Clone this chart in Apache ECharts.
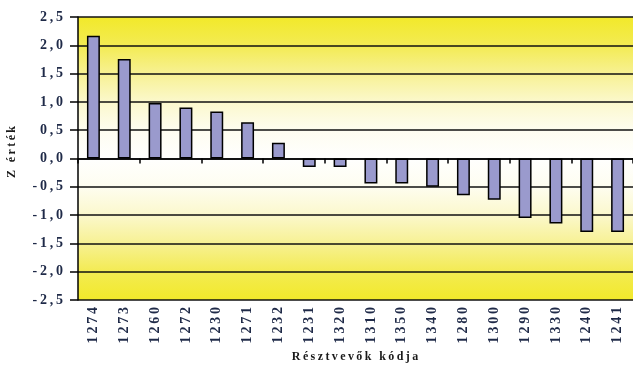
<!DOCTYPE html>
<html>
<head>
<meta charset="utf-8">
<script src="https://cdn.jsdelivr.net/npm/echarts@6/dist/echarts.min.js"></script>
<style>
  html, body { margin: 0; padding: 0; background: #ffffff; }
  #chart { width: 633px; height: 370px; }
</style>
</head>
<body>
<div id="chart"></div>
<script>
// Participant codes, ordered by Z-score
const categories = ['1274', '1273', '1260', '1272', '1230', '1271', '1232', '1231', '1320',
                    '1310', '1350', '1340', '1280', '1300', '1290', '1330', '1240', '1241'];
// Z-score of each participant
const zScores = [2.17, 1.76, 0.98, 0.90, 0.83, 0.64, 0.28, -0.15, -0.15,
                 -0.44, -0.44, -0.50, -0.65, -0.73, -1.05, -1.15, -1.30, -1.30];
// Value axis range and step
const yMin = -2.5, yMax = 2.5, yStep = 0.5;

const serif = '"Liberation Serif", "DejaVu Serif", serif';
const labelColor = '#1f2a48';
// widen text by putting a thin space between characters
const spaced = s => Array.from(s).join('\u2009');

const chart = echarts.init(document.getElementById('chart'));
chart.setOption({
  animation: false,
  graphic: [
    {
      type: 'text', x: 355, y: 357,
      style: {
        text: spaced('Résztvevők kódja'), align: 'center', verticalAlign: 'middle',
        font: 'bold 12px ' + serif, fill: '#1a1a1a'
      }
    },
    {
      type: 'text', x: 12, y: 152, rotation: Math.PI / 2,
      style: {
        text: spaced('Z érték'), align: 'center', verticalAlign: 'middle',
        font: 'bold 12px ' + serif, fill: '#1a1a1a'
      }
    }
  ],
  grid: {
    left: 78, top: 17, width: 557, height: 283,
    show: true, borderWidth: 0,
    backgroundColor: {
      type: 'linear', x: 0, y: 0, x2: 0, y2: 1,
      colorStops: [
        { offset: 0.00, color: '#f2e92a' },
        { offset: 0.10, color: '#f3eb52' },
        { offset: 0.20, color: '#f7f193' },
        { offset: 0.30, color: '#fbf8cc' },
        { offset: 0.40, color: '#fefdf0' },
        { offset: 0.50, color: '#fffffe' },
        { offset: 0.60, color: '#fefdf0' },
        { offset: 0.70, color: '#fbf8cc' },
        { offset: 0.80, color: '#f7f193' },
        { offset: 0.90, color: '#f3eb52' },
        { offset: 1.00, color: '#f2e92a' }
      ]
    }
  },
  xAxis: [
    {
      // zero line with boundary ticks between bars
      type: 'category', data: categories, position: 'bottom',
      axisLine: { onZero: true, lineStyle: { color: '#000', width: 1.5 } },
      axisTick: { show: true, alignWithLabel: false, length: 5, lineStyle: { color: '#000', width: 1.5 } },
      axisLabel: { show: false },
      splitLine: { show: false }
    },
    {
      // participant codes along the bottom edge
      type: 'category', data: categories, position: 'bottom', gridIndex: 0,
      axisLine: { show: false, onZero: false },
      axisTick: { show: false },
      axisLabel: {
        rotate: 90, margin: 7,
        fontFamily: serif, fontSize: 14, fontWeight: 'bold', color: labelColor,
        formatter: spaced
      }
    }
  ],
  yAxis: {
    type: 'value', min: yMin, max: yMax, interval: yStep,
    axisLine: { show: true, lineStyle: { color: '#000', width: 1.5 } },
    axisTick: { show: true, length: 8, lineStyle: { color: '#000', width: 1.5 } },
    axisLabel: {
      margin: 15, fontFamily: serif, fontSize: 14, fontWeight: 'bold', color: labelColor,
      padding: [4, 0, 0, 0],
      formatter: v => spaced(v.toFixed(1).replace('.', ','))
    },
    splitLine: { show: true, lineStyle: { color: '#111', width: 1.5 } }
  },
  series: [{
    type: 'bar', xAxisIndex: 0, data: zScores,
    barCategoryGap: '58%',
    itemStyle: { color: '#9a9acd', borderColor: '#000', borderWidth: 1.5 }
  }]
});
</script>
</body>
</html>
